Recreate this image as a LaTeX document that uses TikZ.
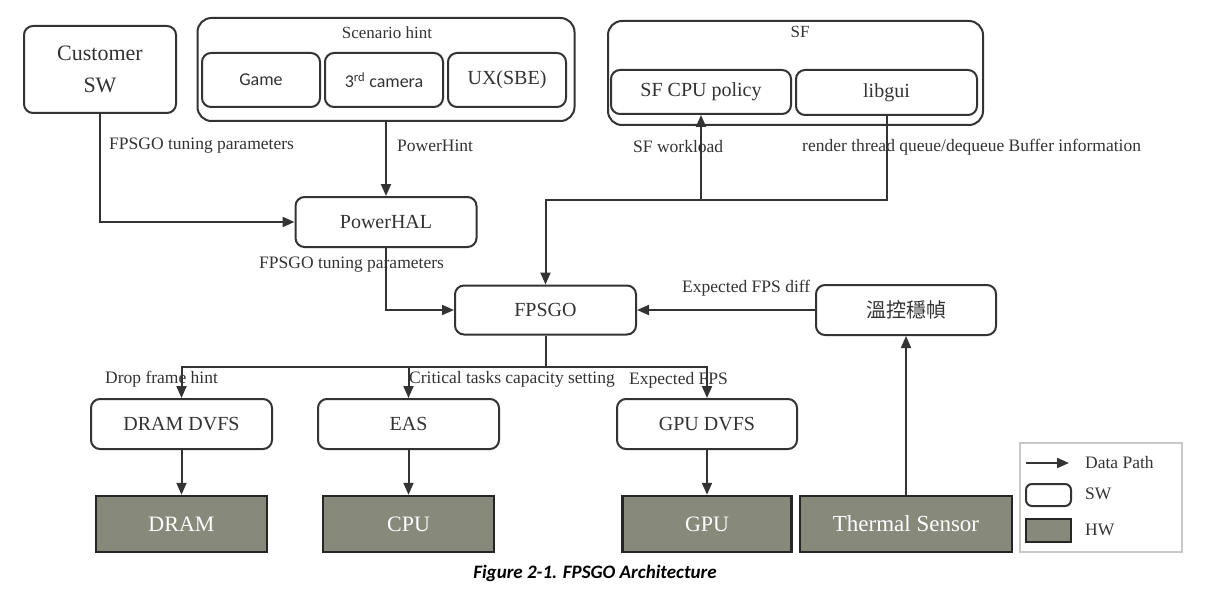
\documentclass[tikz,border=0pt]{standalone}
\usepackage{fontspec}
\setmainfont{Liberation Serif}
\newfontfamily\calfont{Carlito}
\newfontfamily\cjkfont{Noto Sans CJK TC}
\usetikzlibrary{arrows.meta}
\definecolor{inkgray}{HTML}{333333}
\definecolor{hwfill}{HTML}{878A7B}
\definecolor{legendgray}{HTML}{C8C8C8}
\newcommand{\pxfont}[1]{\fontsize{#1}{#1}\selectfont}
\begin{document}
\begin{tikzpicture}[x=1pt,y=-1pt,
		swbox/.style={draw=inkgray,line width=2pt,rounded corners=9pt,fill=white,inner sep=0pt,text=inkgray,font=\pxfont{20}},
		hwbox/.style={draw=black!85,line width=2.5pt,fill=hwfill,inner sep=0pt,text=white,font=\pxfont{22}},
		grp/.style={draw=inkgray,line width=2pt,rounded corners=14pt,inner sep=0pt},
		lbl/.style={anchor=west,inner sep=0pt,text=inkgray,font=\pxfont{17.5}},
		flow/.style={draw=inkgray,line width=2pt,-{Triangle[length=12pt,width=10pt]}},
		wire/.style={draw=inkgray,line width=2pt}]
			\useasboundingbox (0,0) rectangle (1205,607);
			\node[swbox,minimum width=152pt,minimum height=87pt,align=center,font=\fontsize{22}{32}\selectfont] (cust) at (100,69.5) {Customer\\SW};
			\node[grp,minimum width=377pt,minimum height=103pt] (scen) at (386,69.5) {};
			\node[lbl,anchor=center,font=\pxfont{17}] (scenlbl) at (387,33) {Scenario hint};
			\node[swbox,minimum width=118pt,minimum height=54pt,font=\calfont\pxfont{18}] (game) at (261,80) {Game};
			\node[swbox,minimum width=118pt,minimum height=54pt,font=\calfont\pxfont{18}] (cam) at (384,80) {3\textsuperscript{rd} camera};
			\node[swbox,minimum width=118pt,minimum height=54pt] (ux) at (507,80) {UX(SBE)};
			\node[grp,minimum width=375pt,minimum height=104pt] (sf) at (795.5,73) {};
			\node[lbl,anchor=center,font=\pxfont{17}] (sflbl) at (800,32) {SF};
			\node[swbox,minimum width=180pt,minimum height=44pt] (sfcpu) at (701,92) {SF CPU policy};
			\node[swbox,minimum width=181pt,minimum height=45pt] (libgui) at (886.5,92.5) {libgui};
			\node[swbox,minimum width=181pt,minimum height=50pt] (phal) at (386,222) {PowerHAL};
			\node[swbox,minimum width=181pt,minimum height=49pt] (fpsgo) at (545.5,310) {FPSGO};
			\node[swbox,minimum width=180pt,minimum height=50pt,font=\cjkfont\pxfont{20}] (thermctl) at (906,310) {溫控穩幀};
			\node[swbox,minimum width=181pt,minimum height=50pt] (dramdvfs) at (181.5,424) {DRAM DVFS};
			\node[swbox,minimum width=181pt,minimum height=50pt] (eas) at (408.5,424) {EAS};
			\node[swbox,minimum width=180pt,minimum height=50pt] (gpudvfs) at (707,424) {GPU DVFS};
			\node[hwbox,minimum width=171pt,minimum height=56pt] (dram) at (181.5,524) {DRAM};
			\node[hwbox,minimum width=171pt,minimum height=56pt] (cpu) at (408.5,524) {CPU};
			\node[hwbox,minimum width=169pt,minimum height=56pt] (gpu) at (707,524) {GPU};
			\node[hwbox,minimum width=212pt,minimum height=56pt,font=\pxfont{23}] (tsensor) at (906,524) {Thermal Sensor};
			\coordinate (sfbus) at (545.5,200);
			\coordinate (hwbus) at (545.5,367);
			\draw[flow] (cust.south) |- (phal.west);
			\draw[flow] (scen.south) -- (phal.north);
			\draw[flow] (phal.south) |- (fpsgo.west);
			\draw[flow] (libgui.south) |- (sfbus) -- (fpsgo.north);
			\draw[flow] (sfcpu.south |- sfbus) -- (sfcpu.south);
			\draw[flow] (thermctl.west) -- (fpsgo.east);
			\draw[flow] (tsensor.north) -- (thermctl.south);
			\draw[wire] (fpsgo.south) -- (hwbus);
			\draw[flow] (hwbus) -| (dramdvfs.north);
			\draw[flow] (hwbus) -| (eas.north);
			\draw[flow] (hwbus) -| (gpudvfs.north);
			\draw[flow] (dramdvfs.south) -- (dram.north);
			\draw[flow] (eas.south) -- (cpu.north);
			\draw[flow] (gpudvfs.south) -- (gpu.north);
			\node[lbl] (custlbl) at (109,146) {FPSGO tuning parameters};
			\node[lbl] (hintlbl) at (397,146) {PowerHint};
			\node[lbl] (hallbl) at (259,265) {FPSGO tuning parameters};
			\node[lbl] (sfwlbl) at (633,147) {SF workload};
			\node[lbl] (renderlbl) at (802,147) {render thread queue/dequeue Buffer information};
			\node[lbl] (difflbl) at (682,288) {Expected FPS diff};
			\node[lbl] (droplbl) at (105,379) {Drop frame hint};
			\node[lbl] (critlbl) at (409,379) {Critical tasks capacity setting};
			\node[lbl] (fpslbl) at (629,380) {Expected FPS};
			\node[draw=legendgray,line width=2.5pt,minimum width=162pt,minimum height=109pt,inner sep=0pt] (legend) at (1101,497.5) {};
			\coordinate (keyfrom) at (1026,463);
			\coordinate (keyto) at (1069,463);
			\draw[flow] (keyfrom) -- (keyto);
			\node[swbox,rounded corners=6pt,minimum width=45pt,minimum height=22pt] (swkey) at (1048.5,495) {};
			\node[hwbox,minimum width=45pt,minimum height=23pt] (hwkey) at (1048.5,530.5) {};
			\node[lbl] (pathlbl) at (1085,463) {Data Path};
			\node[lbl] (swlbl) at (1085,494) {SW};
			\node[lbl] (hwlbl) at (1085,530) {HW};
			\node[font=\calfont\bfseries\itshape\pxfont{19}] (caption) at (595,573) {Figure 2-1. FPSGO Architecture};
		\end{tikzpicture}
\end{document}
